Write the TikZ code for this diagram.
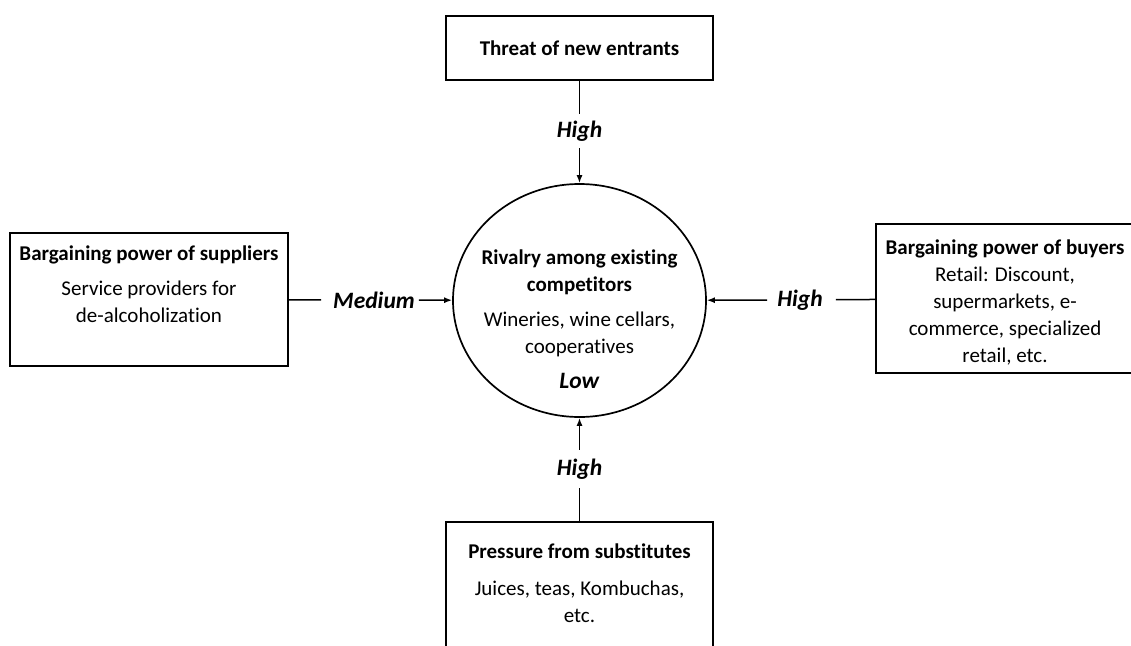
\documentclass[tikz,border=0pt]{standalone}
\usepackage{fontspec}
\setmainfont{Carlito}[Ligatures=NoCommon]
\usetikzlibrary{positioning,shapes.geometric,arrows.meta}
\tikzset{
  forcebox/.style={draw=black, line width=1.7pt, inner sep=0pt},
  forcetext/.style={align=center, font=\fontsize{21}{27}\selectfont, inner sep=0pt},
  level/.style={font=\fontsize{23.5}{27}\selectfont\bfseries\itshape, inner sep=7pt},
  link/.style={line width=1.5pt},
  linkarrow/.style={line width=1.5pt, -{Latex[length=8pt,width=6pt]}}
}
\begin{document}
\begin{tikzpicture}[x=1pt,y=-1pt]
\useasboundingbox (0,0) rectangle (1131,645);
\node[forcebox, ellipse, minimum width=253pt, minimum height=233pt] (rivalry) at (579.5,300.5) {};
\node[forcetext] (rivalrytext) at (579.5,319) {\textbf{Rivalry among existing}\\\textbf{competitors}\\[8pt]Wineries, wine cellars,\\cooperatives\\[8pt]{\fontsize{23.5}{27}\selectfont\textbf{\textit{Low}}}};
\node[forcebox, minimum width=267pt, minimum height=64pt] (entrants) at (579.5,48) {};
\node[forcetext] (entrantstext) at (579.5,48) {\textbf{Threat of new entrants}};
\node[forcebox, minimum width=278pt, minimum height=133pt] (suppliers) at (149,299.5) {};
\node[forcetext] (supplierstext) at (149,284) {\textbf{Bargaining power of suppliers}\\[8pt]Service providers for\\de-alcoholization};
\node[forcebox, minimum width=262pt, minimum height=149pt] (buyers) at (1007,298.5) {};
\node[forcetext] (buyerstext) at (1005,302) {\textbf{Bargaining power of buyers}\\Retail: Discount,\\supermarkets, e-\\commerce, specialized\\retail, etc.};
\node[forcebox, minimum width=267pt, minimum height=150pt] (substitutes) at (579.5,597) {};
\node[forcetext] (substitutestext) at (579.5,583.5) {\textbf{Pressure from substitutes}\\[10pt]Juices, teas, Kombuchas,\\etc.};
\node[level] (hightop) at (579.5,131) {High};
\node[level, inner xsep=4pt] (medium) at (374,300) {Medium};
\node[level, inner xsep=10pt] (highright) at (800,300) {High};
\node[level, inner ysep=9pt] (highbottom) at (579.5,469) {High};
\draw[link] (entrants) -- (hightop);
\draw[linkarrow] (hightop) -- (rivalry);
\draw[link, shorten >=8pt] (suppliers) -- (medium);
\draw[linkarrow] (medium) -- (rivalry);
\draw[link, shorten >=3pt] (buyers) -- (highright);
\draw[linkarrow] (highright) -- (rivalry);
\draw[link] (substitutes) -- (highbottom);
\draw[linkarrow] (highbottom) -- (rivalry);
\end{tikzpicture}
\end{document}
